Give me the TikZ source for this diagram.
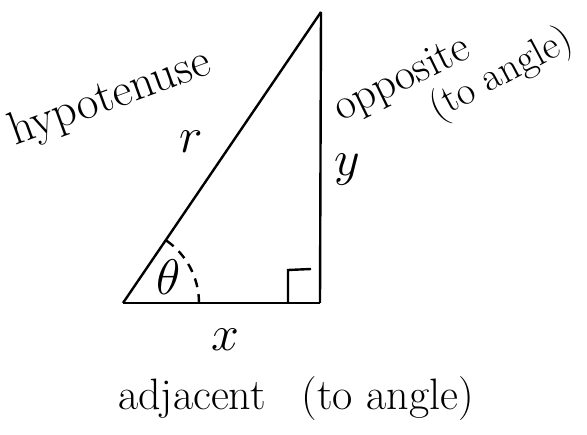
\RequirePackage{fix-cm}
\documentclass[tikz,border=0pt]{standalone}
\usetikzlibrary{calc}
\usepackage[svgnames]{xcolor}
\tikzset{lbl/.style={font=\fontsize{44}{50}\selectfont, inner sep=0pt}}
\tikzset{var/.style={font=\fontsize{50}{56}\selectfont, inner sep=0pt}}

\begin{document}
\begin{tikzpicture}[x=1pt,y=1pt,line width=2.4pt]
  \useasboundingbox (0,0) rectangle (587,-435);
  % 坐标点定义
  \coordinate (A) at (123,-303);
  \coordinate (B) at (320,-303);
  \coordinate (C) at (321,-12);

  % 几何元素
  \draw (A) -- (B);
  \draw (B) -- (C);
  \draw (C) -- (A);

  % 直角标记
  \draw (288,-303) -- (288,-270) -- (311,-269);

  % 角的虚线弧
  \draw[dash pattern=on 9pt off 7pt] ($(A)+(76,0)$) arc (0:57:76);

  % 边与角标签
  \node (theta) [var] at (169,-277) {$\theta$};
  \node (r) [var] at (191,-142) {$r$};
  \node (y) [var] at (347,-170) {$y$};
  \node (x) [var] at (225,-340) {$x$};

  % 文字标签
  \node (hyp) [lbl, font=\fontsize{47}{53}\selectfont, rotate=20, anchor=base west] at (14,-146) {hypotenuse};
  \node (opp) [lbl, rotate=26, anchor=base west] at (340,-122) {opposite};
  \node (oppang) [lbl, font=\fontsize{40}{46}\selectfont, rotate=28, anchor=base west] at (436,-121) {(to angle)};
  \node (adj) [lbl, anchor=base] at (296,-410) {adjacent\hspace{36pt}(to angle)};
\end{tikzpicture}
\end{document}
